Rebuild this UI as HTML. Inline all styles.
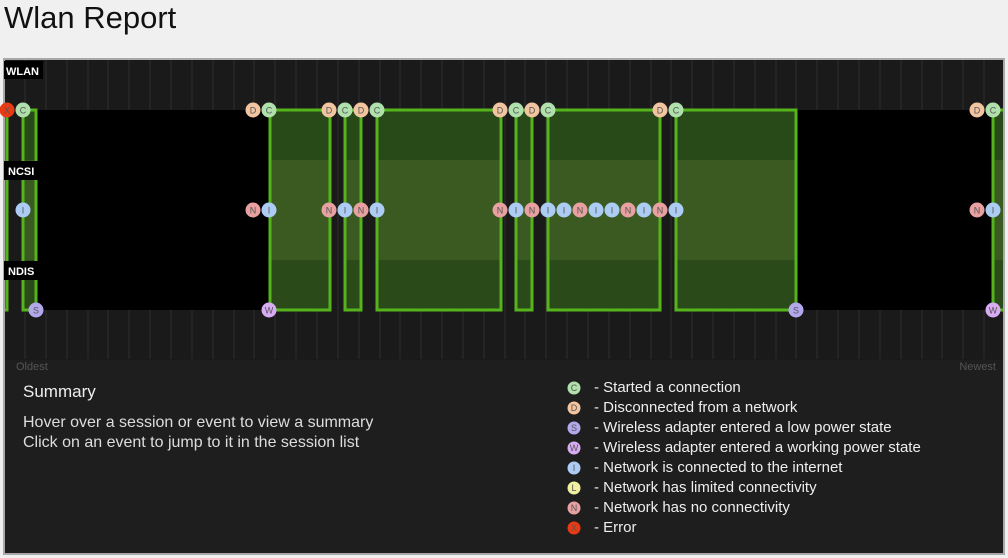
<!DOCTYPE html>
<html><head><meta charset="utf-8"><style>
html,body{margin:0;padding:0;background:#f0f0f0;width:1008px;height:558px;overflow:hidden;font-family:"Liberation Sans",sans-serif}
.title{position:absolute;left:4px;top:0px;font-size:31px;color:#111;letter-spacing:0px}
svg{position:absolute;left:0;top:0}
</style></head><body>
<div class="title">Wlan Report</div>
<svg width="1008" height="558" xmlns="http://www.w3.org/2000/svg" font-family="Liberation Sans, sans-serif">
<rect x="3" y="58" width="1002" height="497" fill="#a8a8a8"/>
<rect x="5" y="60" width="998" height="493" fill="#1e1e1e"/>
<rect x="5" y="60" width="998" height="300" fill="#1a1a1a"/>
<g stroke="#2e2e2e" stroke-width="1">
<line x1="25" y1="60" x2="25" y2="359"/><line x1="46" y1="60" x2="46" y2="359"/><line x1="67" y1="60" x2="67" y2="359"/><line x1="88" y1="60" x2="88" y2="359"/><line x1="108" y1="60" x2="108" y2="359"/><line x1="129" y1="60" x2="129" y2="359"/><line x1="150" y1="60" x2="150" y2="359"/><line x1="171" y1="60" x2="171" y2="359"/><line x1="192" y1="60" x2="192" y2="359"/><line x1="213" y1="60" x2="213" y2="359"/><line x1="234" y1="60" x2="234" y2="359"/><line x1="254" y1="60" x2="254" y2="359"/><line x1="275" y1="60" x2="275" y2="359"/><line x1="296" y1="60" x2="296" y2="359"/><line x1="317" y1="60" x2="317" y2="359"/><line x1="338" y1="60" x2="338" y2="359"/><line x1="359" y1="60" x2="359" y2="359"/><line x1="380" y1="60" x2="380" y2="359"/><line x1="400" y1="60" x2="400" y2="359"/><line x1="421" y1="60" x2="421" y2="359"/><line x1="442" y1="60" x2="442" y2="359"/><line x1="463" y1="60" x2="463" y2="359"/><line x1="484" y1="60" x2="484" y2="359"/><line x1="505" y1="60" x2="505" y2="359"/><line x1="525" y1="60" x2="525" y2="359"/><line x1="546" y1="60" x2="546" y2="359"/><line x1="567" y1="60" x2="567" y2="359"/><line x1="588" y1="60" x2="588" y2="359"/><line x1="609" y1="60" x2="609" y2="359"/><line x1="630" y1="60" x2="630" y2="359"/><line x1="651" y1="60" x2="651" y2="359"/><line x1="671" y1="60" x2="671" y2="359"/><line x1="692" y1="60" x2="692" y2="359"/><line x1="713" y1="60" x2="713" y2="359"/><line x1="734" y1="60" x2="734" y2="359"/><line x1="755" y1="60" x2="755" y2="359"/><line x1="776" y1="60" x2="776" y2="359"/><line x1="796" y1="60" x2="796" y2="359"/><line x1="817" y1="60" x2="817" y2="359"/><line x1="838" y1="60" x2="838" y2="359"/><line x1="859" y1="60" x2="859" y2="359"/><line x1="880" y1="60" x2="880" y2="359"/><line x1="901" y1="60" x2="901" y2="359"/><line x1="922" y1="60" x2="922" y2="359"/><line x1="942" y1="60" x2="942" y2="359"/><line x1="963" y1="60" x2="963" y2="359"/><line x1="984" y1="60" x2="984" y2="359"/>
</g>
<rect x="36" y="110" width="234" height="200" fill="#000"/>
<rect x="796" y="110" width="197" height="200" fill="#000"/>
<defs>
<linearGradient id="sg" x1="0" y1="110" x2="0" y2="310" gradientUnits="userSpaceOnUse">
<stop offset="0" stop-color="#284a18"/><stop offset="0.25" stop-color="#284a18"/><stop offset="0.25" stop-color="#3a5a22"/><stop offset="0.75" stop-color="#3a5a22"/><stop offset="0.75" stop-color="#2a4a1a"/><stop offset="1" stop-color="#2a4a1a"/>
</linearGradient>
</defs>
<g fill="url(#sg)" stroke="#55b41c" stroke-width="3">
<rect x="3" y="110" width="4" height="200"/>
<rect x="23" y="110" width="13" height="200"/>
<rect x="270" y="110" width="60" height="200"/>
<rect x="345" y="110" width="16" height="200"/>
<rect x="377" y="110" width="124" height="200"/>
<rect x="516" y="110" width="16" height="200"/>
<rect x="548" y="110" width="112" height="200"/>
<rect x="676" y="110" width="120" height="200"/>
<rect x="993" y="110" width="14" height="200"/>
</g>
<rect x="0" y="58" width="3" height="300" fill="#f0f0f0"/>
<rect x="3" y="58" width="2" height="300" fill="#a8a8a8"/>
<rect x="1003" y="58" width="2" height="300" fill="#a8a8a8"/>
<rect x="1005" y="58" width="3" height="300" fill="#f0f0f0"/>
<g font-size="11" font-weight="bold" fill="#fff">
<rect x="4" y="61" width="39" height="18" fill="#000"/><text x="6" y="75">WLAN</text>
<rect x="4" y="161" width="39" height="19" fill="#000"/><text x="8" y="175">NCSI</text>
<rect x="4" y="261" width="39" height="19" fill="#000"/><text x="8" y="275">NDIS</text>
</g>
<g font-size="9" text-anchor="middle" fill="#555">
<circle cx="7" cy="110" r="7.5" fill="#e83a14"/><text x="7" y="113.5">X</text>
<circle cx="23" cy="110" r="7.5" fill="#b0e0ac"/><text x="23" y="113.5">C</text>
<circle cx="253" cy="110" r="7.5" fill="#f2c4a0"/><text x="253" y="113.5">D</text>
<circle cx="269" cy="110" r="7.5" fill="#b0e0ac"/><text x="269" y="113.5">C</text>
<circle cx="329" cy="110" r="7.5" fill="#f2c4a0"/><text x="329" y="113.5">D</text>
<circle cx="345" cy="110" r="7.5" fill="#b0e0ac"/><text x="345" y="113.5">C</text>
<circle cx="361" cy="110" r="7.5" fill="#f2c4a0"/><text x="361" y="113.5">D</text>
<circle cx="377" cy="110" r="7.5" fill="#b0e0ac"/><text x="377" y="113.5">C</text>
<circle cx="500" cy="110" r="7.5" fill="#f2c4a0"/><text x="500" y="113.5">D</text>
<circle cx="516" cy="110" r="7.5" fill="#b0e0ac"/><text x="516" y="113.5">C</text>
<circle cx="532" cy="110" r="7.5" fill="#f2c4a0"/><text x="532" y="113.5">D</text>
<circle cx="548" cy="110" r="7.5" fill="#b0e0ac"/><text x="548" y="113.5">C</text>
<circle cx="660" cy="110" r="7.5" fill="#f2c4a0"/><text x="660" y="113.5">D</text>
<circle cx="676" cy="110" r="7.5" fill="#b0e0ac"/><text x="676" y="113.5">C</text>
<circle cx="977" cy="110" r="7.5" fill="#f2c4a0"/><text x="977" y="113.5">D</text>
<circle cx="993" cy="110" r="7.5" fill="#b0e0ac"/><text x="993" y="113.5">C</text>
<circle cx="23" cy="210" r="7.5" fill="#acccf4"/><text x="23" y="213.5">I</text>
<circle cx="253" cy="210" r="7.5" fill="#e8a0a0"/><text x="253" y="213.5">N</text>
<circle cx="269" cy="210" r="7.5" fill="#acccf4"/><text x="269" y="213.5">I</text>
<circle cx="329" cy="210" r="7.5" fill="#e8a0a0"/><text x="329" y="213.5">N</text>
<circle cx="345" cy="210" r="7.5" fill="#acccf4"/><text x="345" y="213.5">I</text>
<circle cx="361" cy="210" r="7.5" fill="#e8a0a0"/><text x="361" y="213.5">N</text>
<circle cx="377" cy="210" r="7.5" fill="#acccf4"/><text x="377" y="213.5">I</text>
<circle cx="500" cy="210" r="7.5" fill="#e8a0a0"/><text x="500" y="213.5">N</text>
<circle cx="516" cy="210" r="7.5" fill="#acccf4"/><text x="516" y="213.5">I</text>
<circle cx="532" cy="210" r="7.5" fill="#e8a0a0"/><text x="532" y="213.5">N</text>
<circle cx="548" cy="210" r="7.5" fill="#acccf4"/><text x="548" y="213.5">I</text>
<circle cx="564" cy="210" r="7.5" fill="#acccf4"/><text x="564" y="213.5">I</text>
<circle cx="580" cy="210" r="7.5" fill="#e8a0a0"/><text x="580" y="213.5">N</text>
<circle cx="596" cy="210" r="7.5" fill="#acccf4"/><text x="596" y="213.5">I</text>
<circle cx="612" cy="210" r="7.5" fill="#acccf4"/><text x="612" y="213.5">I</text>
<circle cx="628" cy="210" r="7.5" fill="#e8a0a0"/><text x="628" y="213.5">N</text>
<circle cx="644" cy="210" r="7.5" fill="#acccf4"/><text x="644" y="213.5">I</text>
<circle cx="660" cy="210" r="7.5" fill="#e8a0a0"/><text x="660" y="213.5">N</text>
<circle cx="676" cy="210" r="7.5" fill="#acccf4"/><text x="676" y="213.5">I</text>
<circle cx="977" cy="210" r="7.5" fill="#e8a0a0"/><text x="977" y="213.5">N</text>
<circle cx="993" cy="210" r="7.5" fill="#acccf4"/><text x="993" y="213.5">I</text>
<circle cx="36" cy="310" r="7.5" fill="#b4a8ec"/><text x="36" y="313.5">S</text>
<circle cx="269" cy="310" r="7.5" fill="#d8acf2"/><text x="269" y="313.5">W</text>
<circle cx="796" cy="310" r="7.5" fill="#b4a8ec"/><text x="796" y="313.5">S</text>
<circle cx="993" cy="310" r="7.5" fill="#d8acf2"/><text x="993" y="313.5">W</text>
</g>
<text x="16" y="370" font-size="11" fill="#555">Oldest</text>
<text x="996" y="370" font-size="11" fill="#555" text-anchor="end">Newest</text>
<text x="23" y="397" font-size="17" fill="#eee">Summary</text>
<text x="23" y="427" font-size="16" fill="#ddd">Hover over a session or event to view a summary</text>
<text x="23" y="447" font-size="16" fill="#ddd">Click on an event to jump to it in the session list</text>
<g font-size="9" text-anchor="middle" fill="#555">
<circle cx="574" cy="388" r="6.5" fill="#b0e0ac"/><text x="574" y="391">C</text>
<circle cx="574" cy="408" r="6.5" fill="#f2c4a0"/><text x="574" y="411">D</text>
<circle cx="574" cy="428" r="6.5" fill="#b4a8ec"/><text x="574" y="431">S</text>
<circle cx="574" cy="448" r="6.5" fill="#d8acf2"/><text x="574" y="451">W</text>
<circle cx="574" cy="468" r="6.5" fill="#acccf4"/><text x="574" y="471">I</text>
<circle cx="574" cy="488" r="6.5" fill="#f0f0a0"/><text x="574" y="491">L</text>
<circle cx="574" cy="508" r="6.5" fill="#e8a0a0"/><text x="574" y="511">N</text>
<circle cx="574" cy="528" r="6.5" fill="#e83a14"/><text x="574" y="531">X</text>
</g>
<g font-size="15" fill="#eee">
<text x="594" y="392">- Started a connection</text>
<text x="594" y="412">- Disconnected from a network</text>
<text x="594" y="432">- Wireless adapter entered a low power state</text>
<text x="594" y="452">- Wireless adapter entered a working power state</text>
<text x="594" y="472">- Network is connected to the internet</text>
<text x="594" y="492">- Network has limited connectivity</text>
<text x="594" y="512">- Network has no connectivity</text>
<text x="594" y="532">- Error</text>
</g>
</svg>
</body></html>
